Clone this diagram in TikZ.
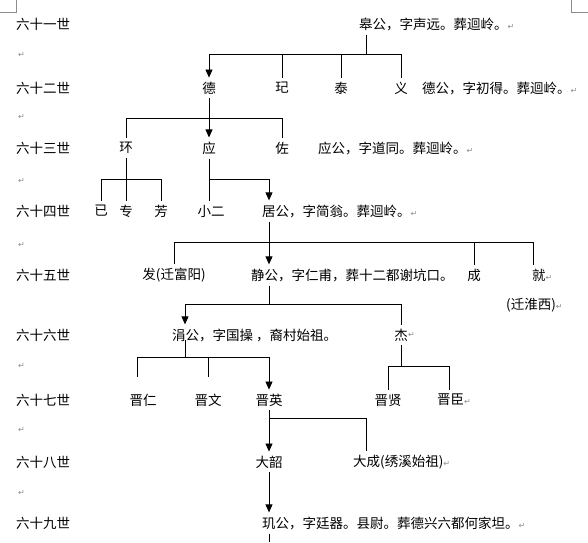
\documentclass[tikz,border=0pt]{standalone}
\usepackage{fontspec}
\setmainfont{Noto Sans CJK SC}
\newfontfamily\symfont{DejaVu Sans}
\usetikzlibrary{arrows.meta}
\definecolor{markgray}{RGB}{140,140,140}
\newcommand\ret{{\symfont\fontsize{8}{8}\selectfont\color{markgray}↵}}
\tikzset{
 cjk/.style={font=\fontsize{13.5}{14}\selectfont, inner xsep=0pt, inner ysep=4pt},
 lab/.style={cjk, anchor=west},
 lft/.style={cjk, anchor=west},
 ln/.style={draw=black, line width=0.8pt},
 arrln/.style={ln, -{Triangle[width=7pt,length=8pt]}},
 pmark/.style={inner sep=0pt, anchor=west},
 corner/.style={draw=markgray, line width=0.6pt}
}
\begin{document}
\begin{tikzpicture}[x=1pt,y=-1pt]
\fill[white] (0,0) rectangle (588,542);
\useasboundingbox (0,0) rectangle (588,542);
% corner marks
\draw[corner] (0,12) -- (16,12) -- (16,0);
\draw[corner] (588,12) -- (571,12) -- (571,0);
% generation labels
\node[lab] (r61) at (16,24) {六十一世};
\node[lab] (r62) at (16,88) {六十二世};
\node[lab] (r63) at (16,148) {六十三世};
\node[lab] (r64) at (16,211) {六十四世};
\node[lab] (r65) at (16,275) {六十五世};
\node[lab] (r66) at (16,335) {六十六世};
\node[lab] (r67) at (16,400) {六十七世};
\node[lab] (r68) at (16,462) {六十八世};
\node[lab] (r69) at (16,523) {六十九世};
% blank paragraph marks
\node[pmark] (p1) at (18,55) {\ret};
\node[pmark] (p2) at (18,117) {\ret};
\node[pmark] (p3) at (18,181) {\ret};
\node[pmark] (p4) at (18,245) {\ret};
\node[pmark] (p5) at (18,366) {\ret};
\node[pmark] (p6) at (18,430) {\ret};
\node[pmark] (p7) at (18,493) {\ret};
% people
\node[lft] (gao) at (359,24) {皋公，字声远。葬迴岭。\ret};
\coordinate (gaoc) at (366,24);
\node[cjk] (de) at (209,88) {德};
\node[cjk] (qi) at (282,88) {玘};
\node[cjk] (tai) at (341,88) {泰};
\node[cjk] (yi) at (401,88) {义};
\node[lft] (degong) at (422,88) {德公，字初得。葬迴岭。\ret};
\node[cjk] (huan) at (126,148) {环};
\node[cjk] (ying) at (209,148) {应};
\node[cjk] (zuo) at (282,148) {佐};
\node[lft] (yinggong) at (318,148) {应公，字道同。葬迴岭。\ret};
\node[cjk] (yi2) at (101,211) {已};
\node[cjk] (zhuan) at (126,211) {专};
\node[cjk] (fang) at (161,211) {芳};
\node[cjk] (xiaoer) at (211,211) {小二};
\node[lft] (ju) at (262,211) {居公，字简翁。葬迴岭。\ret};
\coordinate (juc) at (269,211);
\node[cjk] (fa) at (174,275) {发(迁富阳)};
\node[lft] (jing) at (251,275) {静公，字仁甫，葬十二都谢坑口。};
\coordinate (jingc) at (269,275);
\node[cjk] (cheng) at (474,275) {成};
\node[lft] (jiu) at (532,275) {就\ret};
\coordinate (jiuc) at (533,275);
\node[lft] (huaixi) at (506,305) {(迁淮西)\ret};
\node[lft] (juan) at (172,335) {涓公，字国操 ，裔村始祖。};
\coordinate (juanc) at (185,340);
\node[cjk] (jie) at (401,335) {杰};
\node[pmark] (pjie) at (jie.east) {\ret};
\node[cjk] (jinren) at (143,400) {晋仁};
\coordinate (jinrenc) at (137,400);
\node[cjk] (jinwen) at (208,400) {晋文};
\node[cjk] (jinying) at (269,400) {晋英};
\node[cjk] (jinxian) at (388,400) {晋贤};
\node[lft] (jinchen) at (437,400) {晋臣\ret};
\coordinate (jinchenc) at (449,400);
\node[cjk] (dashao) at (269,462) {大韶};
\node[lft] (dacheng) at (353,462) {大成(绣溪始祖)\ret};
\coordinate (dachengc) at (366,462);
\node[lft] (ji) at (262,523) {玑公，字廷器。县尉。葬德兴六都何家坦。\ret};
\coordinate (jic) at (269,523);
\coordinate (bottom) at (269,542);
% fork levels
\coordinate (h61) at (0,54);
\coordinate (h62) at (0,118);
\coordinate (h63) at (0,179);
\coordinate (h64) at (0,242);
\coordinate (h65) at (0,304);
\coordinate (h66) at (0,357);
\coordinate (h66b) at (0,366);
\coordinate (h67) at (0,418);
% gen 61 -> 62
\draw[ln] (gaoc |- gao.south) -- (gaoc |- h61);
\draw[ln] (de |- h61) -- (yi |- h61);
\draw[arrln] (de |- h61) -- (de.north);
\draw[ln] (qi |- h61) -- (qi.north);
\draw[ln] (tai |- h61) -- (tai.north);
\draw[ln] (yi |- h61) -- (yi.north);
% gen 62 -> 63
\draw[ln] (huan |- h62) -- (zuo |- h62);
\draw[arrln] (de.south) -- (ying.north);
\draw[ln] (huan |- h62) -- (huan.north);
\draw[ln] (zuo |- h62) -- (zuo.north);
% gen 63 -> 64
\draw[ln] (huan.south) -- (zhuan.north);
\draw[ln] (yi2 |- h63) -- (fang |- h63);
\draw[ln] (yi2 |- h63) -- (yi2.north);
\draw[ln] (fang |- h63) -- (fang.north);
\draw[ln] (ying.south) -- (ying |- xiaoer.north);
\draw[ln] (ying |- h63) -- (juc |- h63);
\draw[arrln] (juc |- h63) -- (juc |- ju.north);
% gen 64 -> 65
\draw[arrln] (juc |- ju.south) -- (jingc |- jing.north);
\draw[ln] (fa |- h64) -- (jiuc |- h64);
\draw[ln] (fa |- h64) -- (fa.north);
\draw[ln] (cheng |- h64) -- (cheng.north);
\draw[ln] (jiuc |- h64) -- (jiuc |- jiu.north);
% gen 65 -> 66
\draw[ln] (jingc |- jing.south) -- (jingc |- h65);
\draw[ln] (juanc |- h65) -- (jie |- h65);
\draw[arrln] (juanc |- h65) -- (juanc |- juan.north);
\draw[ln] (jie |- h65) -- (jie.north);
% gen 66 -> 67
\draw[ln] (juanc) -- (juanc |- h66);
\draw[ln] (jinrenc |- h66) -- (jinying |- h66);
\draw[ln] (jinrenc |- h66) -- ++(0,20);
\draw[ln] (jinwen |- h66) -- ++(0,20);
\draw[arrln] (jinying |- h66) -- (jinying.north);
\draw[ln] (jie.south) -- (jie |- h66b);
\draw[ln] (jinxian |- h66b) -- (jinchenc |- h66b);
\draw[ln] (jinxian |- h66b) -- (jinxian.north);
\draw[ln] (jinchenc |- h66b) -- (jinchenc |- jinchen.north);
% gen 67 -> 68
\draw[arrln] (jinying.south) -- (dashao.north);
\draw[ln] (jinying |- h67) -- (dachengc |- h67);
\draw[ln] (dachengc |- h67) -- (dachengc |- dacheng.north);
% gen 68 -> 69
\draw[arrln] (dashao.south) -- (jic |- ji.north);
\draw[ln] (jic |- ji.south) -- (bottom);
\end{tikzpicture}
\end{document}
